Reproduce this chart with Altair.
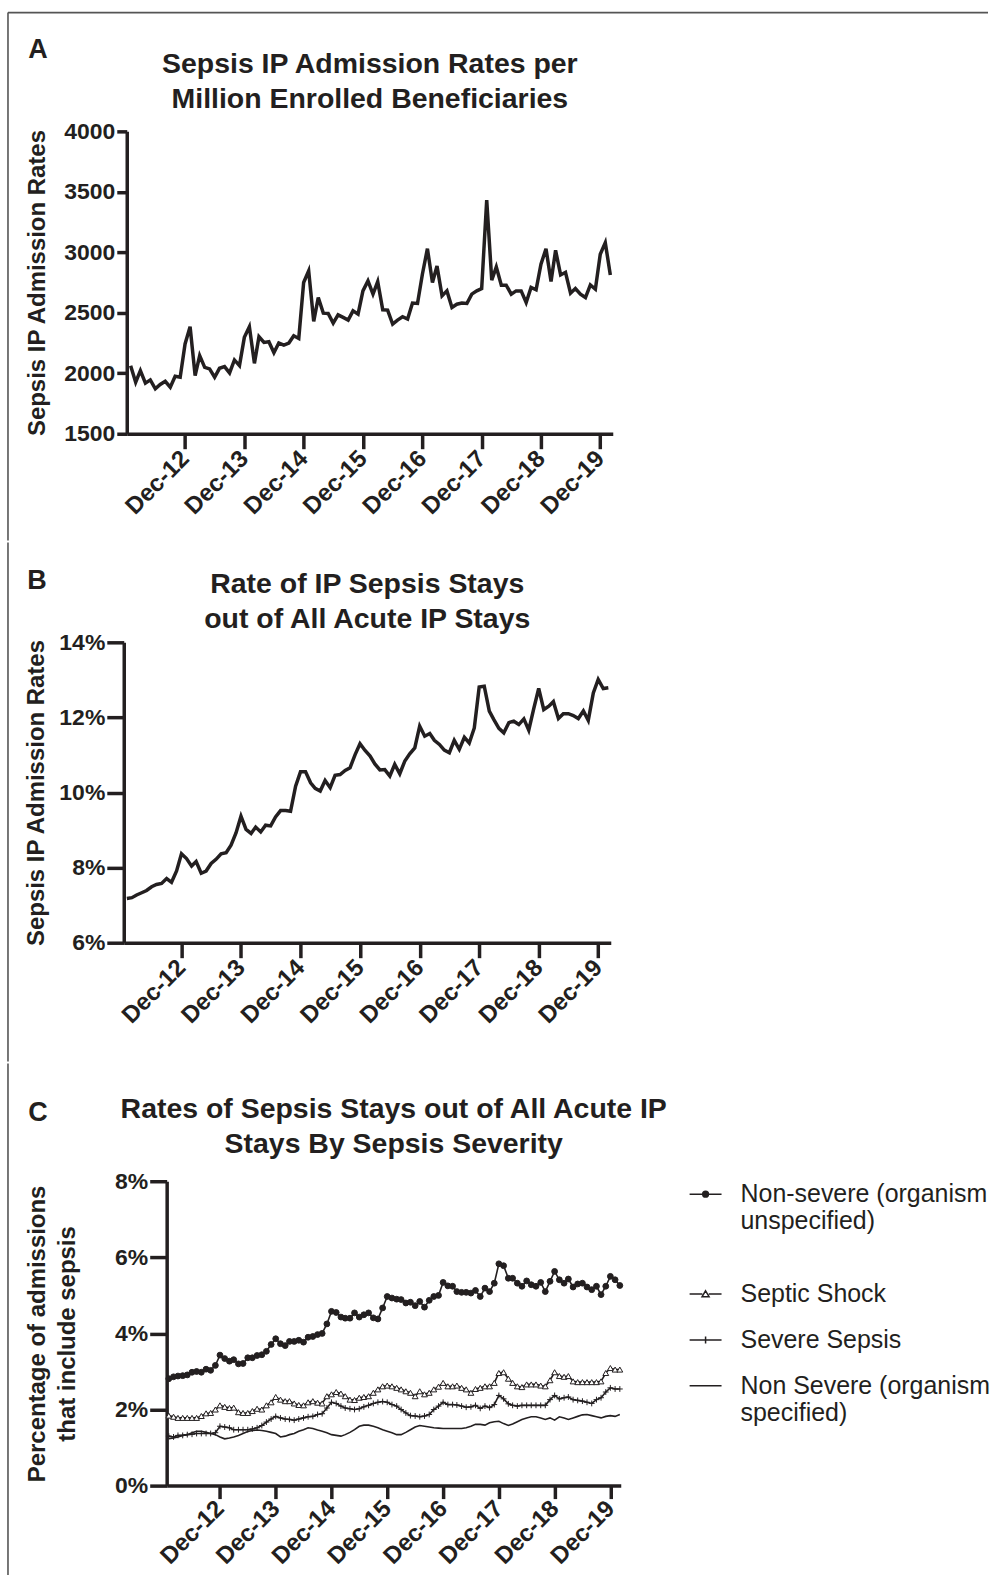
import altair as alt
import pandas as pd

# ---------------- data ----------------
months = pd.date_range("2012-01-01", periods=98, freq="MS")
dates = [d.strftime("%Y-%m-%dT00:00:00") for d in months]

rate_per_million = [
    2063, 1926, 2022, 1918, 1945, 1871, 1907, 1934, 1885, 1975,
    1967, 2242, 2385, 1981, 2146, 2049, 2036, 1967, 2041, 2055,
    2003, 2110, 2063, 2297, 2385, 2082, 2302, 2255, 2261, 2170,
    2250, 2233, 2250, 2310, 2288, 2750, 2846, 2429, 2626, 2497,
    2495, 2415, 2483, 2462, 2440, 2516, 2489, 2681, 2764, 2654,
    2758, 2525, 2522, 2407, 2440, 2467, 2448, 2580, 2577, 2819,
    3030, 2750, 2887, 2640, 2681, 2544, 2571, 2580, 2577, 2654,
    2681, 2700, 3431, 2769, 2879, 2728, 2728, 2654, 2681, 2681,
    2585, 2709, 2690, 2901, 3030, 2758, 3016, 2813, 2835, 2662,
    2701, 2654, 2626, 2731, 2695, 2984, 3080, 2813]

pct_sepsis_stays = [
    7.18, 7.20, 7.27, 7.33, 7.39, 7.49, 7.55, 7.58, 7.71, 7.61,
    7.91, 8.37, 8.24, 8.04, 8.16, 7.85, 7.91, 8.11, 8.22, 8.37,
    8.40, 8.60, 8.93, 9.37, 9.02, 8.91, 9.08, 8.95, 9.13, 9.11,
    9.35, 9.52, 9.52, 9.50, 10.17, 10.55, 10.55, 10.26, 10.11, 10.04,
    10.32, 10.13, 10.46, 10.48, 10.59, 10.66, 11.01, 11.30, 11.12, 10.97,
    10.76, 10.60, 10.61, 10.44, 10.75, 10.50, 10.84, 11.03, 11.19, 11.77,
    11.50, 11.57, 11.39, 11.28, 11.13, 11.06, 11.39, 11.15, 11.47, 11.32,
    11.72, 12.81, 12.83, 12.17, 11.94, 11.71, 11.59, 11.86, 11.90, 11.81,
    11.96, 11.66, 12.24, 12.77, 12.21, 12.30, 12.42, 11.97, 12.10, 12.10,
    12.05, 11.97, 12.17, 11.92, 12.65, 13.01, 12.77, 12.79]

nonsevere_unspecified = [
    2.81, 2.86, 2.88, 2.89, 2.91, 2.98, 3.00, 2.98, 3.06, 3.03,
    3.16, 3.43, 3.34, 3.27, 3.31, 3.20, 3.21, 3.36, 3.36, 3.42,
    3.44, 3.53, 3.71, 3.86, 3.73, 3.68, 3.79, 3.79, 3.82, 3.77,
    3.90, 3.92, 3.97, 4.00, 4.25, 4.58, 4.55, 4.43, 4.40, 4.40,
    4.54, 4.43, 4.49, 4.54, 4.41, 4.38, 4.67, 4.97, 4.93, 4.90,
    4.89, 4.80, 4.82, 4.73, 4.84, 4.69, 4.87, 4.97, 5.00, 5.34,
    5.25, 5.24, 5.10, 5.08, 5.08, 5.06, 5.13, 4.97, 5.19, 5.10,
    5.32, 5.83, 5.78, 5.45, 5.45, 5.32, 5.24, 5.38, 5.28, 5.24,
    5.34, 5.10, 5.37, 5.63, 5.41, 5.32, 5.43, 5.22, 5.30, 5.32,
    5.22, 5.15, 5.24, 5.02, 5.24, 5.50, 5.41, 5.26]

septic_shock = [
    1.84, 1.81, 1.78, 1.78, 1.78, 1.78, 1.78, 1.83, 1.90, 1.91,
    2.00, 2.11, 2.07, 2.04, 2.05, 1.93, 1.91, 1.91, 1.96, 2.02,
    2.00, 2.11, 2.19, 2.33, 2.26, 2.22, 2.22, 2.16, 2.12, 2.11,
    2.19, 2.22, 2.18, 2.16, 2.35, 2.40, 2.46, 2.42, 2.35, 2.26,
    2.25, 2.31, 2.33, 2.35, 2.44, 2.53, 2.61, 2.63, 2.61, 2.57,
    2.53, 2.48, 2.44, 2.35, 2.48, 2.40, 2.44, 2.53, 2.60, 2.70,
    2.61, 2.61, 2.63, 2.57, 2.53, 2.44, 2.54, 2.57, 2.61, 2.61,
    2.70, 2.96, 2.98, 2.81, 2.70, 2.61, 2.59, 2.66, 2.66, 2.66,
    2.63, 2.61, 2.77, 2.98, 2.88, 2.86, 2.88, 2.74, 2.72, 2.72,
    2.72, 2.72, 2.72, 2.74, 2.96, 3.09, 3.05, 3.05]

severe_sepsis = [
    1.30, 1.28, 1.32, 1.32, 1.34, 1.35, 1.37, 1.37, 1.37, 1.37,
    1.39, 1.56, 1.54, 1.52, 1.47, 1.47, 1.47, 1.47, 1.49, 1.52,
    1.58, 1.67, 1.75, 1.82, 1.78, 1.75, 1.74, 1.72, 1.75, 1.78,
    1.81, 1.82, 1.87, 1.89, 2.04, 2.19, 2.16, 2.09, 2.04, 2.02,
    2.00, 2.02, 2.07, 2.11, 2.16, 2.19, 2.21, 2.19, 2.13, 2.09,
    2.00, 1.91, 1.84, 1.83, 1.81, 1.83, 1.87, 2.00, 2.09, 2.19,
    2.13, 2.13, 2.12, 2.09, 2.06, 2.07, 2.11, 2.03, 2.09, 2.05,
    2.13, 2.37, 2.28, 2.15, 2.11, 2.09, 2.11, 2.11, 2.11, 2.11,
    2.11, 2.11, 2.26, 2.37, 2.28, 2.31, 2.33, 2.26, 2.24, 2.22,
    2.19, 2.16, 2.26, 2.31, 2.46, 2.57, 2.54, 2.54]

nonsevere_specified = [
    1.23, 1.25, 1.28, 1.32, 1.34, 1.39, 1.43, 1.43, 1.40, 1.37,
    1.34, 1.28, 1.23, 1.25, 1.28, 1.32, 1.37, 1.42, 1.45, 1.46,
    1.45, 1.43, 1.40, 1.37, 1.28, 1.30, 1.34, 1.37, 1.43, 1.47,
    1.52, 1.50, 1.46, 1.43, 1.39, 1.34, 1.32, 1.30, 1.34, 1.40,
    1.47, 1.56, 1.59, 1.59, 1.56, 1.52, 1.47, 1.43, 1.39, 1.34,
    1.34, 1.40, 1.47, 1.54, 1.58, 1.56, 1.54, 1.52, 1.51, 1.50,
    1.50, 1.50, 1.50, 1.50, 1.52, 1.56, 1.61, 1.61, 1.59, 1.65,
    1.68, 1.69, 1.63, 1.58, 1.62, 1.68, 1.74, 1.78, 1.81, 1.81,
    1.78, 1.74, 1.78, 1.72, 1.81, 1.78, 1.74, 1.78, 1.82, 1.86,
    1.87, 1.84, 1.81, 1.78, 1.82, 1.84, 1.82, 1.87]

series_names = [
    "Non-severe (organism\nunspecified)",
    "Septic Shock",
    "Severe Sepsis",
    "Non Severe (organism\nspecified)",
]
series_values = [nonsevere_unspecified, septic_shock, severe_sepsis, nonsevere_specified]

titles = {
    "A": "Sepsis IP Admission Rates per\nMillion Enrolled Beneficiaries",
    "B": "Rate of IP Sepsis Stays\nout of All Acute IP Stays",
    "C": "Rates of Sepsis Stays out of All Acute IP\nStays By Sepsis Severity",
}
y_titles = {
    "A": "Sepsis IP Admission Rates",
    "B": "Sepsis IP Admission Rates",
    "C": ["Percentage of admissions", "that include sepsis"],
}
ya_ticks = [1500, 2000, 2500, 3000, 3500, 4000]
yb_ticks = [6, 8, 10, 12, 14]
yc_ticks = [0, 2, 4, 6, 8]

# ---------------- styling ----------------
FONT = "Liberation Sans"
INK = "#231f20"
BORDER = "#555555"
TICK_DATES = [alt.DateTime(year=y, month=12, date=1) for y in range(2012, 2020)]

# All three panels share one plot origin (x = 166.8 px on the page);
# panels A and B start further left through their x-scale range.
dfa = pd.DataFrame({"date": dates, "value": rate_per_million})
dfb = pd.DataFrame({"date": dates, "value": pct_sepsis_stays})
dfc = pd.DataFrame([
    {"date": d, "series": s, "value": v}
    for s, vals in zip(series_names, series_values)
    for d, v in zip(dates, vals)
])


def x_enc(start_day, end_day, tick_size, rng=None):
    sc = dict(domain=[alt.DateTime(year=2011, month=12, date=start_day),
                      alt.DateTime(year=2020, month=2, date=end_day)])
    if rng is not None:
        sc["range"] = rng
    return alt.X(
        "date:T", title=None, scale=alt.Scale(**sc),
        axis=alt.Axis(values=TICK_DATES, format="%b-%y", labelAngle=315,
                      labelAlign="right", labelBaseline="middle", labelOverlap=False,
                      labelFontSize=24, tickSize=tick_size, labelPadding=6),
    )


def y_axis(title, ticks, title_x, h, tick_size, label_expr=None, lh=None, offset=0):
    kw = dict(values=ticks, title=title, titleAngle=270, titleX=title_x, titleY=h / 2,
              titleAlign="center", titleBaseline="alphabetic",
              tickSize=tick_size, labelPadding=2, offset=offset)
    if label_expr:
        kw["labelExpr"] = label_expr
    if lh:
        kw["titleLineHeight"] = lh
    return alt.Axis(**kw)


def text_layer(txt, x, y, size, weight="bold", lh=35):
    return alt.Chart(pd.DataFrame({"t": [txt]})).mark_text(
        font=FONT, fontSize=size, fontWeight=weight, color=INK, align="center",
        baseline="alphabetic", lineBreak="\n", lineHeight=lh,
    ).encode(text="t:N", x=alt.value(x), y=alt.value(y))


def rule_layer(x, y, x2=None, y2=None):
    enc = dict(x=alt.value(x), y=alt.value(y))
    if x2 is not None:
        enc["x2"] = alt.value(x2)
    if y2 is not None:
        enc["y2"] = alt.value(y2)
    return alt.Chart(pd.DataFrame({"k": [0]})).mark_rule(
        color=BORDER, strokeWidth=1.6).encode(**enc)


# ---------------- panel A ----------------
HA = 303
line_a = alt.Chart(dfa).mark_line(color=INK, strokeWidth=3.5).encode(
    x=x_enc(8, 16, 15, [-40, 447]),
    y=alt.Y("value:Q", scale=alt.Scale(domain=[1500, 4000], nice=False, zero=False),
            axis=y_axis(y_titles["A"], ya_ticks, -82, HA, 10,
                        "format(datum.value, 'd')", offset=40)),
)
panel_a = alt.layer(
    line_a,
    text_layer(titles["A"], 203.6, -58, 28.5),
    text_layer("A", -129, -73, 27),
    rule_layer(-159, -119, x2=823),
    rule_layer(-159, -119, y2=410),
).properties(width=447, height=HA)

# ---------------- panel B ----------------
HB = 301
line_b = alt.Chart(dfb).mark_line(color=INK, strokeWidth=3.5).encode(
    x=x_enc(13, 16, 15, [-43, 445]),
    y=alt.Y("value:Q", scale=alt.Scale(domain=[6, 14], nice=False, zero=False),
            axis=y_axis(y_titles["B"], yb_ticks, -80, HB, 17,
                        "datum.value + '%'", offset=43)),
)
panel_b = alt.layer(
    line_b,
    text_layer(titles["B"], 201, -49, 28.5),
    text_layer("B", -130, -53, 27),
    rule_layer(-159, -100, y2=420),
).properties(width=445, height=HB)

# ---------------- panel C ----------------
WC, HC = 455, 305
xc = x_enc(18, 7, 13)
yc = alt.Y("value:Q", scale=alt.Scale(domain=[0, 8], nice=False, zero=False),
           axis=y_axis(y_titles["C"], yc_ticks, -122, HC, 17, "datum.value + '%'", 30))

PLUS = "M-1,0H1M0,-1V1"
lines_c = alt.Chart(dfc).mark_line(color=INK, strokeWidth=1.6).encode(
    x=xc, y=yc, detail="series:N")
points_c = alt.Chart(dfc).transform_filter(
    alt.FieldOneOfPredicate(field="series", oneOf=series_names[:3])
).mark_point(stroke=INK, strokeWidth=1, opacity=1, size=34).encode(
    x=xc, y=yc,
    shape=alt.Shape("series:N", scale=alt.Scale(domain=series_names[:3],
                    range=["circle", "triangle-up", PLUS]), legend=None),
    fill=alt.Fill("series:N", scale=alt.Scale(domain=series_names[:3],
                  range=[INK, "white", "transparent"]), legend=None),
)


def ring(r):
    return f"M{r},0A{r},{r},0,1,1,{-r},0A{r},{r},0,1,1,{r},0"


LEG_SHAPES = [
    "M-1,0H1" + ring(0.18) + ring(0.11) + ring(0.04),
    "M-1,0H-0.2M0.2,0H1M0,-0.2L0.22,0.17L-0.22,0.17Z",
    "M-1,0H1M0,-0.22V0.22",
    "M-1,0H1",
]
legend_c = alt.Chart(dfc).transform_filter("false").mark_point(
    filled=False, color=INK, opacity=1, strokeWidth=1.5
).encode(
    x=xc, y=yc,
    shape=alt.Shape(
        "series:N", scale=alt.Scale(domain=series_names, range=LEG_SHAPES),
        legend=alt.Legend(
            title=None, orient="none", legendX=523, legendY=-4, padding=0,
            symbolSize=1024, symbolStrokeColor=INK, symbolStrokeWidth=1.5,
            symbolFillColor="transparent", symbolOpacity=1,
            labelFont=FONT, labelFontSize=25, labelColor=INK, labelLimit=400,
            labelOffset=18, rowPadding=16,
            labelExpr="indexof(datum.label, 'unspecified') >= 0 ? "
                      "split(datum.label + '\\n ', '\\n') : split(datum.label, '\\n')",
        ),
    ),
)

panel_c = alt.layer(
    lines_c, points_c, legend_c,
    text_layer(titles["C"], WC / 2, -63, 28.5),
    text_layer("C", -129, -60, 27),
    rule_layer(-159, -118, y2=420),
).resolve_scale(shape="independent").properties(width=WC, height=HC)

chart = alt.vconcat(panel_a, panel_b, panel_c, spacing=0).configure(
    font=FONT, padding={"left": 7, "top": 10, "right": 0, "bottom": 0},
).configure_view(stroke=None).configure_axis(
    grid=False, domainColor=INK, domainWidth=3.5, tickColor=INK, tickWidth=3.5,
    labelFont=FONT, labelFontWeight="bold", labelFontSize=23, labelColor=INK,
    titleFont=FONT, titleFontWeight="bold", titleFontSize=24, titleColor=INK,
)

chart.save("out.html", embed_options={"renderer": "svg", "actions": False})
